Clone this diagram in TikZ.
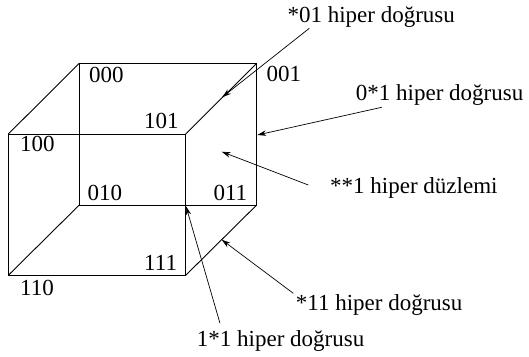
\documentclass[tikz,border=0pt]{standalone}
\usepackage{fontspec}
\setmainfont{Liberation Serif}
\usetikzlibrary{arrows.meta}
\begin{document}
\begin{tikzpicture}[x=1pt,y=-1pt,
  edge/.style={line width=0.9pt, line join=miter},
  lbl/.style={anchor=base west, inner sep=0pt, font=\fontsize{23}{27}\selectfont},
  ptr/.style={line width=0.7pt, -{Stealth[length=9pt,width=5.5pt]}}]
\useasboundingbox (0,0) rectangle (529,356);
% cube vertices
\coordinate (v000) at (79.3,63.3);
\coordinate (v001) at (256.7,63.3);
\coordinate (v010) at (79.3,205);
\coordinate (v011) at (256.7,205);
\coordinate (v100) at (8.3,134);
\coordinate (v101) at (185.7,134);
\coordinate (v110) at (8.3,275.3);
\coordinate (v111) at (185.7,275.3);
% edges
\draw[edge] (v100) -- (v101) -- (v111) -- (v110) -- cycle;
\draw[edge] (v000) -- (v001) -- (v011) -- (v010) -- cycle;
\draw[edge] (v100) -- (v000);
\draw[edge] (v101) -- (v001);
\draw[edge] (v111) -- (v011);
\draw[edge] (v110) -- (v010);
% vertex labels
\node[lbl] (l000) at (89,82.3) {000};
\node[lbl] (l001) at (266.5,81.7) {001};
\node[lbl] (l101) at (144,128.3) {101};
\node[lbl] (l100) at (20,151.7) {100};
\node[lbl] (l010) at (87.3,200) {010};
\node[lbl] (l011) at (213.3,200) {011};
\node[lbl] (l111) at (144,270.7) {111};
\node[lbl] (l110) at (20,295) {110};
% annotation labels
\node[lbl] (a01) at (287.3,22.7) {*01 hiper doğrusu};
\node[lbl] (a0s1) at (355.7,100) {0*1 hiper doğrusu};
\node[lbl] (ass1) at (330,193.3) {**1 hiper düzlemi};
\node[lbl] (as11) at (295.7,310) {*11 hiper doğrusu};
\node[lbl] (a1s1) at (196.7,346.7) {1*1 hiper doğrusu};
% arrow tails and tips
\coordinate (t1) at (309.3,28.3);  \coordinate (h1) at (222.2,97.2);
\coordinate (t2) at (381.7,107.3); \coordinate (h2) at (257.3,135);
\coordinate (t3) at (308.3,185);   \coordinate (h3) at (221.7,151.7);
\coordinate (t4) at (293.3,293.3); \coordinate (h4) at (221.7,239.7);
\coordinate (t5) at (220,323.3);   \coordinate (h5) at (186,206.3);
\draw[ptr] (t1) -- (h1);
\draw[ptr] (t2) -- (h2);
\draw[ptr] (t3) -- (h3);
\draw[ptr] (t4) -- (h4);
\draw[ptr] (t5) -- (h5);
\end{tikzpicture}
\end{document}
